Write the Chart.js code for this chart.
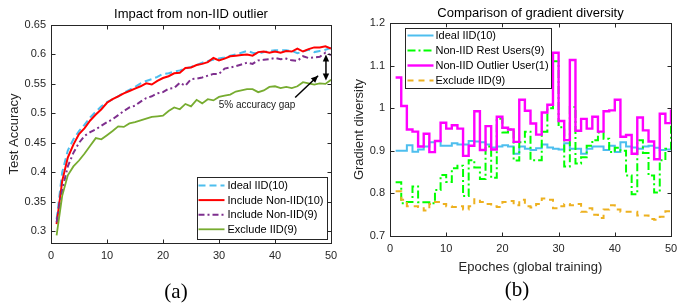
<!DOCTYPE html>
<html>
<head>
<meta charset="utf-8">
<script src="https://cdn.jsdelivr.net/npm/chart.js@4.4.0/dist/chart.umd.min.js"></script>
<style>
  html, body { margin: 0; padding: 0; background: #fff; }
  #wrap { position: relative; width: 689px; height: 306px; }
  .pane { position: absolute; top: 0; height: 306px; }
</style>
</head>
<body>
<div id="wrap">
  <div class="pane" style="left:0;width:345px"><canvas id="chartA" width="345" height="306"></canvas></div>
  <div class="pane" style="left:345px;width:344px"><canvas id="chartB" width="344" height="306"></canvas></div>
</div>
<script>
// ---- data ----
const epochs = [1, 2, 3, 4, 5, 6, 7, 8, 9, 10, 11, 12, 13, 14, 15, 16, 17, 18, 19, 20,
  21, 22, 23, 24, 25, 26, 27, 28, 29, 30, 31, 32, 33, 34, 35, 36, 37, 38, 39, 40,
  41, 42, 43, 44, 45, 46, 47, 48, 49, 50];
const xTicks = [0, 10, 20, 30, 40, 50];

// (a) test accuracy
const accTicks = [0.3, 0.35, 0.4, 0.45, 0.5, 0.55, 0.6, 0.65];
const idealIID10 = [0.32, 0.40, 0.437, 0.456, 0.47, 0.481, 0.493, 0.503, 0.512, 0.519,
  0.524, 0.529, 0.535, 0.54, 0.545, 0.551, 0.555, 0.558, 0.562, 0.567,
  0.568, 0.571, 0.573, 0.576, 0.579, 0.582, 0.586, 0.589, 0.591, 0.593,
  0.595, 0.598, 0.60, 0.603, 0.606, 0.603, 0.601, 0.604, 0.606, 0.607,
  0.607, 0.607, 0.606, 0.602, 0.605, 0.608, 0.604, 0.606, 0.608, 0.611];
const includeNonIID10 = [0.312, 0.385, 0.425, 0.447, 0.465, 0.475, 0.488, 0.498, 0.507, 0.518,
  0.524, 0.529, 0.534, 0.538, 0.542, 0.546, 0.551, 0.549, 0.555, 0.56,
  0.563, 0.568, 0.569, 0.577, 0.578, 0.582, 0.584, 0.587, 0.594, 0.59,
  0.593, 0.597, 0.598, 0.599, 0.60, 0.598, 0.604, 0.605, 0.603, 0.605,
  0.603, 0.606, 0.605, 0.61, 0.605, 0.609, 0.612, 0.612, 0.614, 0.61];
const includeNonIID9 = [0.315, 0.37, 0.41, 0.433, 0.45, 0.462, 0.468, 0.473, 0.479, 0.485,
  0.49, 0.497, 0.504, 0.51, 0.513, 0.52, 0.526, 0.529, 0.534, 0.536,
  0.542, 0.543, 0.552, 0.547, 0.558, 0.559, 0.561, 0.564, 0.567, 0.567,
  0.576, 0.578, 0.58, 0.583, 0.586, 0.584, 0.59, 0.591, 0.592, 0.594,
  0.592, 0.593, 0.59, 0.589, 0.597, 0.594, 0.595, 0.596, 0.603, 0.599];
const excludeIID9acc = [0.293, 0.36, 0.395, 0.41, 0.42, 0.432, 0.445, 0.458, 0.456, 0.463,
  0.47, 0.478, 0.477, 0.483, 0.485, 0.488, 0.491, 0.494, 0.495, 0.496,
  0.504, 0.51, 0.507, 0.516, 0.512, 0.523, 0.517, 0.524, 0.522, 0.528,
  0.53, 0.532, 0.537, 0.539, 0.541, 0.541, 0.536, 0.539, 0.545, 0.546,
  0.543, 0.545, 0.543, 0.546, 0.553, 0.551, 0.549, 0.551, 0.55, 0.557];

// (b) gradient diversity
const divTicks = [0.7, 0.8, 0.9, 1, 1.1, 1.2];
const idealDiv = [0.90, 0.90, 0.913, 0.898, 0.903, 0.91, 0.92, 0.923, 0.912, 0.912,
  0.918, 0.915, 0.915, 0.923, 0.922, 0.92, 0.915, 0.908, 0.91, 0.913,
  0.91, 0.893, 0.91, 0.905, 0.902, 0.906, 0.915, 0.908, 0.905, 0.903,
  0.918, 0.905, 0.905, 0.893, 0.905, 0.91, 0.91, 0.902, 0.912, 0.897,
  0.92, 0.91, 0.908, 0.905, 0.91, 0.912, 0.907, 0.902, 0.903, 0.905];
const restUsersDiv = [0.826, 0.777, 0.78, 0.816, 0.779, 0.779, 0.777, 0.808, 0.843, 0.827,
  0.859, 0.865, 0.794, 0.878, 0.861, 0.834, 0.91, 0.837, 0.975, 0.943,
  0.95, 0.877, 0.92, 0.945, 0.878, 0.878, 0.945, 1.0, 1.11, 0.955,
  0.863, 1.003, 0.87, 0.885, 0.912, 0.925, 0.943, 0.928, 0.897, 0.907,
  0.90, 0.842, 0.798, 0.925, 0.895, 0.842, 0.802, 0.878, 0.905, 0.965];
const outlierDiv = [1.072, 1.005, 0.95, 0.945, 0.91, 0.94, 0.897, 0.923, 0.966, 0.952,
  0.96, 0.952, 0.888, 0.912, 0.993, 0.902, 0.958, 0.903, 0.98, 0.954,
  0.95, 0.921, 1.02, 0.994, 0.964, 0.938, 0.99, 1.008, 1.13, 0.97,
  0.925, 1.113, 0.947, 0.975, 0.952, 0.98, 0.945, 0.993, 0.995, 1.02,
  0.933, 0.937, 0.893, 0.978, 0.948, 0.922, 0.88, 0.987, 0.965, 0.997];
const excludeDiv = [0.805, 0.785, 0.77, 0.77, 0.768, 0.76, 0.775, 0.78, 0.775, 0.77,
  0.768, 0.77, 0.762, 0.77, 0.786, 0.78, 0.775, 0.77, 0.768, 0.78,
  0.782, 0.772, 0.785, 0.77, 0.767, 0.775, 0.788, 0.785, 0.765, 0.77,
  0.775, 0.772, 0.775, 0.757, 0.765, 0.75, 0.742, 0.762, 0.772, 0.762,
  0.757, 0.757, 0.757, 0.748, 0.748, 0.74, 0.738, 0.745, 0.758, 0.75];

// ---- helpers ----
const SANS = '"Liberation Sans", Arial, Helvetica, sans-serif';
const SERIF = '"Liberation Serif", "DejaVu Serif", serif';
const AXIS = '#262626';

function pts(arr) {
  return epochs.map((e, i) => ({ x: e, y: arr[i] }));
}

function line(label, arr, color, width, dash, extra) {
  return Object.assign({
    label: label,
    data: pts(arr),
    borderColor: color,
    borderWidth: width,
    borderDash: dash,
    pointRadius: 0,
    fill: false,
    tension: 0
  }, extra || {});
}

function fmt(v) {
  return String(+Number(v).toFixed(2));
}

function scales(yMin, yMax, yTicks, yTitle, yWidth, xHeight) {
  return {
    x: {
      type: 'linear', min: 0, max: 50,
      afterBuildTicks: s => { s.ticks = xTicks.map(v => ({ value: v })); },
      afterFit: s => { s.height = xHeight; },
      grid: { display: false, drawTicks: false },
      border: { display: false },
      ticks: { padding: 6, color: AXIS, font: { family: SANS, size: 11 }, maxRotation: 0 }
    },
    y: {
      type: 'linear', min: yMin, max: yMax,
      afterBuildTicks: s => { s.ticks = yTicks.map(v => ({ value: v })); },
      afterFit: s => { s.width = yWidth; },
      grid: { display: false, drawTicks: false },
      border: { display: false },
      ticks: { padding: 5, color: AXIS, font: { family: SANS, size: 11 }, callback: fmt },
      title: { display: true, text: yTitle, color: AXIS, font: { family: SANS, size: 13 }, padding: { top: 7, bottom: 0 } }
    }
  };
}

function arrowHead(ctx, x1, y1, x2, y2) {
  const ang = Math.atan2(y2 - y1, x2 - x1);
  const len = 7, half = 3.2;
  ctx.beginPath();
  ctx.moveTo(x2, y2);
  ctx.lineTo(x2 - len * Math.cos(ang) + half * Math.sin(ang), y2 - len * Math.sin(ang) - half * Math.cos(ang));
  ctx.lineTo(x2 - len * Math.cos(ang) - half * Math.sin(ang), y2 - len * Math.sin(ang) + half * Math.cos(ang));
  ctx.closePath();
  ctx.fill();
}

// frame, inward ticks, title, custom legend and free text
const decor = {
  id: 'decor',
  afterDatasetsDraw(chart, args, o) {
    const { ctx, chartArea: a, scales: { x, y } } = chart;
    ctx.save();
    ctx.setLineDash([]);

    if (o.annotate) o.annotate(ctx, x, y);

    // box + ticks
    ctx.strokeStyle = AXIS;
    ctx.lineWidth = 1;
    const L = Math.round(a.left) + 0.5, R = Math.round(a.right) + 0.5;
    const T = Math.round(a.top) + 0.5, B = Math.round(a.bottom) + 0.5;
    ctx.strokeRect(L, T, R - L, B - T);
    ctx.beginPath();
    x.ticks.forEach(t => {
      const px = Math.round(x.getPixelForValue(t.value)) + 0.5;
      ctx.moveTo(px, B); ctx.lineTo(px, B - 4);
      ctx.moveTo(px, T); ctx.lineTo(px, T + 4);
    });
    y.ticks.forEach(t => {
      const py = Math.round(y.getPixelForValue(t.value)) + 0.5;
      ctx.moveTo(L, py); ctx.lineTo(L + 4, py);
      ctx.moveTo(R, py); ctx.lineTo(R - 4, py);
    });
    ctx.stroke();

    // legend
    const lg = o.legend;
    const bx = lg.right ? R - lg.right - lg.w : L + lg.left;
    const by = lg.bottom ? B - lg.bottom - lg.h : T + lg.top;
    ctx.fillStyle = '#fff';
    ctx.fillRect(bx, by, lg.w, lg.h);
    ctx.strokeStyle = AXIS;
    ctx.lineWidth = 1;
    ctx.strokeRect(Math.round(bx) + 0.5, Math.round(by) + 0.5, lg.w, lg.h);
    ctx.font = '11px ' + SANS;
    ctx.textBaseline = 'middle';
    ctx.textAlign = 'left';
    chart.data.datasets.forEach((ds, i) => {
      const ry = by + lg.first + i * lg.step;
      ctx.strokeStyle = ds.borderColor;
      ctx.lineWidth = ds.borderWidth;
      ctx.setLineDash(ds.borderDash || []);
      ctx.beginPath();
      ctx.moveTo(bx + lg.s0, ry);
      ctx.lineTo(bx + lg.s1, ry);
      ctx.stroke();
      ctx.setLineDash([]);
      ctx.fillStyle = '#000';
      ctx.fillText(ds.label, bx + lg.tx, ry + 0.5);
    });

    // titles and labels
    const cx = (a.left + a.right) / 2;
    ctx.fillStyle = '#000';
    ctx.textAlign = 'center';
    ctx.font = '13px ' + SANS;
    ctx.fillText(o.title, cx, o.titleY);
    if (o.xTitle) {
      ctx.fillStyle = AXIS;
      ctx.fillText(o.xTitle, cx, o.xTitleY);
    }
    ctx.fillStyle = '#000';
    ctx.font = '21px ' + SERIF;
    ctx.fillText(o.tag, o.tagX, o.tagY);
    ctx.restore();
  }
};

// ---- chart (a) ----
new Chart(document.getElementById('chartA'), {
  type: 'line',
  data: {
    datasets: [
      line('Ideal IID(10)', idealIID10, '#4DBEEE', 2, [7, 4], { order: 4 }),
      line('Include Non-IID(10)', includeNonIID10, '#FF0000', 2, [], { order: 3 }),
      line('Include Non-IID(9)', includeNonIID9, '#7E2F8E', 2, [6, 3, 2, 3], { order: 2 }),
      line('Exclude IID(9)', excludeIID9acc, '#77AC30', 1.8, [], { order: 1 })
    ]
  },
  options: {
    responsive: false,
    animation: false,
    devicePixelRatio: 1,
    layout: { padding: { top: 25, left: 0, right: 14, bottom: 0 } },
    scales: scales(0.28, 0.65, accTicks, 'Test Accuracy', 51, 63),
    plugins: {
      legend: { display: false },
      tooltip: { enabled: false },
      decor: {
        title: 'Impact from non-IID outlier', titleY: 14,
        tag: '(a)', tagX: 176, tagY: 292,
        legend: { w: 130, h: 62, right: 5, bottom: 5, first: 9, step: 14.6, s0: 2, s1: 28, tx: 31 },
        annotate(ctx, x, y) {
          ctx.strokeStyle = '#000';
          ctx.fillStyle = '#000';
          ctx.lineWidth = 1.5;
          // single arrow pointing at the gap
          const x1 = x.getPixelForValue(43.6), y1 = y.getPixelForValue(0.527);
          const x2 = x.getPixelForValue(47.7), y2 = y.getPixelForValue(0.564);
          ctx.beginPath(); ctx.moveTo(x1, y1); ctx.lineTo(x2, y2); ctx.stroke();
          arrowHead(ctx, x1, y1, x2, y2);
          // double arrow between curves
          const gx = x.getPixelForValue(49.1);
          const ga = y.getPixelForValue(0.600), gb = y.getPixelForValue(0.556);
          ctx.beginPath(); ctx.moveTo(gx, ga + 3); ctx.lineTo(gx, gb - 3); ctx.stroke();
          arrowHead(ctx, gx, gb, gx, ga);
          arrowHead(ctx, gx, ga, gx, gb);
          ctx.font = '10px ' + SANS;
          ctx.textAlign = 'center';
          ctx.textBaseline = 'middle';
          ctx.fillStyle = '#1a1a1a';
          ctx.fillText('5% accuracy gap', x.getPixelForValue(36.8), y.getPixelForValue(0.513));
        }
      }
    }
  },
  plugins: [decor]
});

// ---- chart (b) ----
new Chart(document.getElementById('chartB'), {
  type: 'line',
  data: {
    datasets: [
      line('Ideal IID(10)', idealDiv, '#4DBEEE', 2, [], { stepped: 'before', order: 4 }),
      line('Non-IID Rest Users(9)', restUsersDiv, '#00FF00', 2, [8, 3, 2, 3], { stepped: 'before', order: 3 }),
      line('Non-IID Outlier User(1)', outlierDiv, '#FF00FF', 2.4, [], { stepped: 'before', order: 2 }),
      line('Exclude IID(9)', excludeDiv, '#EDB120', 2, [6, 5], { stepped: 'before', order: 1 })
    ]
  },
  options: {
    responsive: false,
    animation: false,
    devicePixelRatio: 1,
    layout: { padding: { top: 23, left: 0, right: 18, bottom: 0 } },
    scales: scales(0.7, 1.2, divTicks, 'Gradient diversity', 45, 70),
    plugins: {
      legend: { display: false },
      tooltip: { enabled: false },
      decor: {
        title: 'Comparison of gradient diversity', titleY: 13,
        xTitle: 'Epoches (global training)', xTitleY: 267,
        tag: '(b)', tagX: 172, tagY: 290,
        legend: { w: 146, h: 60, left: 14, top: 4, first: 8, step: 15, s0: 3, s1: 29, tx: 31 }
      }
    }
  },
  plugins: [decor]
});
</script>
</body>
</html>
